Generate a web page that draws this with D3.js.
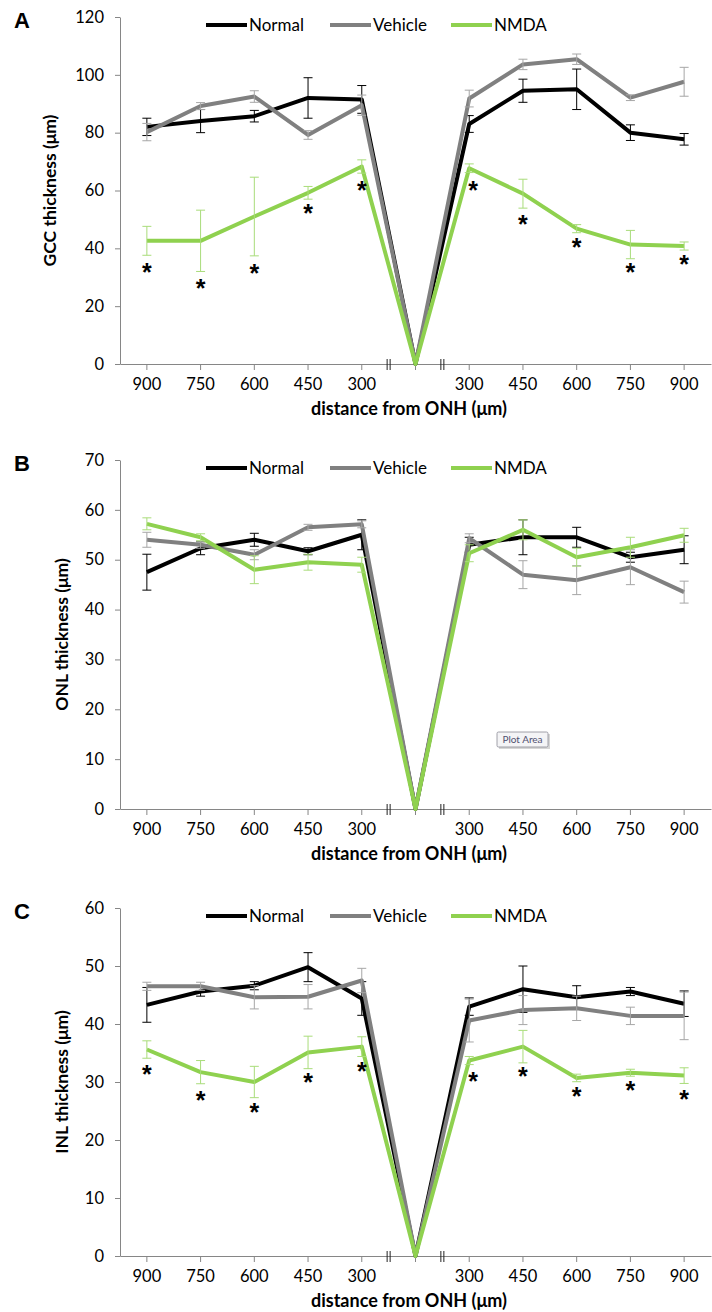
<!DOCTYPE html>
<html>
<head>
<meta charset="utf-8">
<script src="https://cdn.jsdelivr.net/npm/d3@7"></script>
<style>
  body { margin: 0; background: #fff; }
  text { font-family: Lato, "Open Sans", sans-serif; }
</style>
</head>
<body>
<svg width="712" height="1312"></svg>
<script>
// categories along the x axis (centre = ONH, no label)
var categories = ["900", "750", "600", "450", "300", "", "300", "450", "600", "750", "900"];
var seriesNames = ["Normal", "Vehicle", "NMDA"];

// A - GCC
var gccNormal     = [82, 84, 85.7, 92, 91.5, 0, 83, 94.5, 95, 80, 77.7];
var gccNormalErr  = [3, 4, 2, 7, 4.8, 0, 2.9, 4, 7, 2.7, 2];
var gccVehicle    = [80.2, 89.2, 92.5, 79.2, 89.5, 0, 91.8, 103.6, 105.4, 92.1, 97.6];
var gccVehicleErr = [3, 1.2, 2, 1.5, 3.5, 0, 2.9, 1.8, 1.8, 1, 5];
var gccNmda       = [42.6, 42.6, 51, 59.2, 68.3, 0, 67.7, 58.9, 46.8, 41.3, 40.8];
var gccNmdaErr    = [5, 10.6, 13.6, 2.2, 2.3, 0, 1.5, 5, 1.4, 4.9, 1.4];
var gccStars      = [33.5, 28, 33.3, 54, 62, null, 62, 50, 42.3, 33.5, 36.2];
var gccTicks      = [0, 20, 40, 60, 80, 100, 120];

// B - ONL
var onlNormal     = [47.5, 52.3, 54, 51.7, 55, 0, 53, 54.5, 54.5, 50.5, 52];
var onlNormalErr  = [3.6, 1.3, 1.3, 0.7, 3, 0, 1.5, 3.5, 2, 1, 2.8];
var onlVehicle    = [54, 53, 51, 56.5, 57.1, 0, 54.3, 47, 45.9, 48.5, 43.5];
var onlVehicleErr = [1.5, 0.7, 1, 0.6, 0.7, 0, 0.9, 2.8, 2.9, 3.5, 2.2];
var onlNmda       = [57.2, 54.5, 48, 49.5, 49, 0, 51.3, 56, 50.5, 52.5, 54.9];
var onlNmdaErr    = [1.2, 0.7, 2.8, 1.6, 1.5, 0, 1.7, 2, 1.8, 2, 1.4];
var onlStars      = [null, null, null, null, null, null, null, null, null, null, null];
var onlTicks      = [0, 10, 20, 30, 40, 50, 60, 70];

// C - INL
var inlNormal     = [43.3, 45.6, 46.6, 49.8, 44.4, 0, 43, 46, 44.6, 45.6, 43.5];
var inlNormalErr  = [3, 0.8, 0.7, 2.5, 2.9, 0, 1.5, 4, 2, 0.7, 2.2];
var inlVehicle    = [46.5, 46.5, 44.6, 44.7, 47.5, 0, 40.6, 42.4, 42.7, 41.4, 41.4];
var inlVehicleErr = [0.7, 0.7, 2, 2.1, 2.1, 0, 3.7, 2.5, 2.1, 1.5, 4.1];
var inlNmda       = [35.6, 31.7, 30, 35.1, 36.1, 0, 33.7, 36.1, 30.7, 31.6, 31.1];
var inlNmdaErr    = [1.5, 2, 2.7, 2.8, 1.7, 0, 0.7, 2.8, 0.65, 0.6, 1.35];
var inlStars      = [32.3, 27.8, 25.7, 30.9, 32.7, null, 31, 31.9, 28.5, 29.4, 28];
var inlTicks      = [0, 10, 20, 30, 40, 50, 60];

var lineColors = ["#000000", "#808080", "#8fd14f"];
var errColors  = ["#000000", "#a6a6a6", "#a9dc7a"];
var axisColor = "#868686";

var svg = d3.select("svg");
var left = 120, right = 711;

var x = d3.scaleBand().domain(d3.range(categories.length)).range([left, right]);
function cx(i) { return x(i) + x.bandwidth() / 2; }

function drawPanel(opt) {
    var g = svg.append("g");
    var y = d3.scaleLinear().domain([0, d3.max(opt.ticks)]).range([opt.bottom, opt.top]);

    // y axis
    var ya = g.append("g")
        .attr("transform", "translate(" + left + ",0)")
        .call(d3.axisLeft(y).tickValues(opt.ticks).tickSize(5).tickPadding(11).tickSizeOuter(0));
    ya.select(".domain").attr("stroke", axisColor);
    ya.selectAll(".tick line").attr("stroke", axisColor);
    ya.selectAll("text").style("font-size", "16.5px").attr("fill", "#000");

    // x axis
    var xa = g.append("g")
        .attr("transform", "translate(0," + opt.bottom + ")")
        .call(d3.axisBottom(x).tickFormat(function(i) { return categories[i]; })
            .tickSize(6).tickPadding(8).tickSizeOuter(0));
    xa.select(".domain").attr("stroke", axisColor);
    xa.selectAll(".tick line").attr("stroke", axisColor);
    xa.selectAll("text").style("font-size", "16.5px").attr("fill", "#000");

    // break marks either side of the ONH
    [x(5), x(5) + x.bandwidth()].forEach(function(bx) {
        [-1.5, 1.5].forEach(function(o) {
            g.append("line")
                .attr("x1", bx + o).attr("x2", bx + o)
                .attr("y1", opt.bottom - 5).attr("y2", opt.bottom + 6)
                .attr("stroke", "#222").attr("stroke-width", 1);
        });
    });

    // series
    var line = d3.line().x(function(d, i) { return cx(i); }).y(function(d) { return y(d); });
    opt.series.forEach(function(s, k) {
        g.append("path")
            .datum(s.values)
            .attr("d", line)
            .attr("fill", "none")
            .attr("stroke", lineColors[k])
            .attr("stroke-width", 4)
            .attr("stroke-linejoin", "round");

        var eb = g.append("g").selectAll("g")
            .data(s.values.map(function(v, i) { return { i: i, v: v, e: s.err[i] }; }).filter(function(d) { return d.e > 0; }))
            .enter().append("g")
            .attr("stroke", errColors[k]).attr("stroke-width", 1);
        eb.append("line")
            .attr("x1", function(d) { return cx(d.i); }).attr("x2", function(d) { return cx(d.i); })
            .attr("y1", function(d) { return y(d.v + d.e); }).attr("y2", function(d) { return y(d.v - d.e); });
        [1, -1].forEach(function(sg) {
            eb.append("line")
                .attr("x1", function(d) { return cx(d.i) - 4.5; }).attr("x2", function(d) { return cx(d.i) + 4.5; })
                .attr("y1", function(d) { return y(d.v + sg * d.e); }).attr("y2", function(d) { return y(d.v + sg * d.e); });
        });
    });

    // significance asterisks
    g.selectAll("text.star")
        .data(opt.stars.map(function(v, i) { return { i: i, v: v }; }).filter(function(d) { return d.v != null; }))
        .enter().append("text")
        .attr("class", "star")
        .attr("x", function(d) { return cx(d.i) + (d.i === 6 ? 4 : 0); })
        .attr("y", function(d) { return y(d.v) + 14; })
        .attr("text-anchor", "middle")
        .style("font-family", "'Liberation Sans', Arial, sans-serif")
        .style("font-size", "25px")
        .style("font-weight", "bold")
        .text("*");

    // legend
    var lx = [206, 330, 451];
    seriesNames.forEach(function(n, k) {
        g.append("line")
            .attr("x1", lx[k]).attr("x2", lx[k] + 41)
            .attr("y1", opt.top + 8).attr("y2", opt.top + 8)
            .attr("stroke", lineColors[k]).attr("stroke-width", 4);
        g.append("text")
            .attr("x", lx[k] + 43).attr("y", opt.top + 8).attr("dy", "0.35em")
            .style("font-size", "17px")
            .text(n);
    });

    // titles
    g.append("text")
        .attr("transform", "translate(" + opt.ylabX + "," + (opt.top + opt.bottom) / 2 + ") rotate(-90)")
        .attr("text-anchor", "middle").attr("dy", "0.35em")
        .style("font-size", "17.5px").style("font-weight", "bold")
        .text(opt.ylabel);
    g.append("text")
        .attr("x", 409).attr("y", opt.bottom + 45).attr("dy", "0.35em")
        .attr("text-anchor", "middle")
        .style("font-size", "18px").style("font-weight", "bold")
        .text("distance from ONH (\u03bcm)");
    g.append("text")
        .attr("x", 22).attr("y", opt.top + 3).attr("dy", "0.35em")
        .attr("text-anchor", "middle")
        .style("font-family", "'Liberation Sans', Arial, sans-serif")
        .style("font-size", "22px").style("font-weight", "bold")
        .text(opt.letter);
    return g;
}

drawPanel({
    letter: "A", ylabel: "GCC thickness (\u03bcm)", ylabX: 50, top: 17, bottom: 364, ticks: gccTicks,
    series: [{ values: gccNormal, err: gccNormalErr }, { values: gccVehicle, err: gccVehicleErr }, { values: gccNmda, err: gccNmdaErr }],
    stars: gccStars
});
var pb = drawPanel({
    letter: "B", ylabel: "ONL thickness (\u03bcm)", ylabX: 62, top: 460, bottom: 809, ticks: onlTicks,
    series: [{ values: onlNormal, err: onlNormalErr }, { values: onlVehicle, err: onlVehicleErr }, { values: onlNmda, err: onlNmdaErr }],
    stars: onlStars
});
drawPanel({
    letter: "C", ylabel: "INL thickness (\u03bcm)", ylabX: 62, top: 908, bottom: 1256, ticks: inlTicks,
    series: [{ values: inlNormal, err: inlNormalErr }, { values: inlVehicle, err: inlVehicleErr }, { values: inlNmda, err: inlNmdaErr }],
    stars: inlStars
});

// "Plot Area" hover tip captured in the screenshot
pb.append("rect").attr("x", 499).attr("y", 734).attr("width", 51).attr("height", 15)
    .attr("fill", "#bbb").attr("opacity", 0.6);
pb.append("rect").attr("x", 497).attr("y", 732).attr("width", 51).attr("height", 15)
    .attr("fill", "#f4f4f6").attr("stroke", "#8a8a96").attr("stroke-width", 0.8).attr("rx", 1.5);
pb.append("text").attr("x", 522.5).attr("y", 739.5).attr("dy", "0.35em")
    .attr("text-anchor", "middle").style("font-size", "10px").attr("fill", "#505070")
    .text("Plot Area");
</script>
</body>
</html>
